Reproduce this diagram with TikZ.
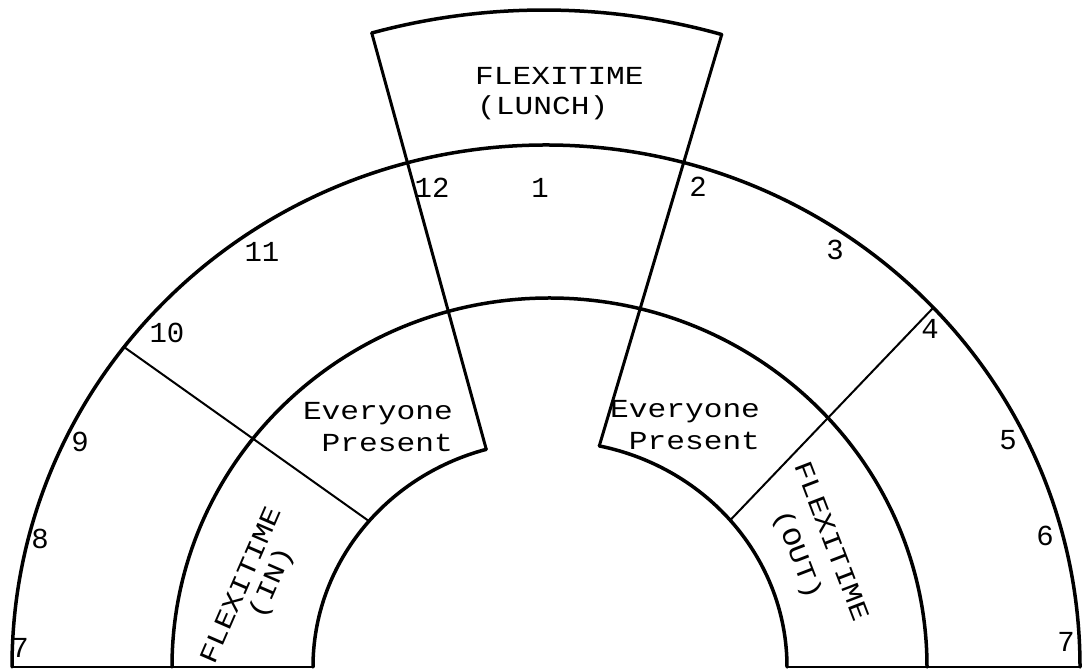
\documentclass[tikz,border=0pt]{standalone}
\usepackage{fontspec}
\usepackage{graphicx}
\setmonofont{Liberation Mono}
\usetikzlibrary{calc}
\newcommand{\widetxt}[1]{\scalebox{1.2}[1]{#1}}
\tikzset{
  ring/.style={line width=3.5pt, line cap=round, line join=round},
  spoke/.style={line width=3pt, line cap=round},
  divider/.style={line width=2pt, line cap=round},
  baseline/.style={line width=2pt},
  lbl/.style={inner sep=0pt, font=\ttfamily\fontsize{26}{30}\selectfont},
  num/.style={inner sep=0pt, font=\ttfamily\fontsize{29}{32}\selectfont},
}
\begin{document}
\begin{tikzpicture}[x=1pt,y=1pt]
\useasboundingbox (0,0) rectangle (1082,671);
% key points
\coordinate (OL0) at (12,4);
\coordinate (OR0) at (1080,4);
\coordinate (ML0) at (172,4);
\coordinate (MR0) at (927,4);
\coordinate (IL0) at (313,4);
\coordinate (IR0) at (787,4);
\coordinate (CL) at ({550+237*cos(105.6)},{4+226*sin(105.6)});
\coordinate (CR) at ({550+237*cos(78)},{4+226*sin(78)});
\coordinate (TL) at ({544+657*cos(105.2)},{4+657*sin(105.2)});
\coordinate (TR) at ({544+657*cos(74.3)},{4+657*sin(74.3)});
\coordinate (DLo) at ({546+534*cos(142.2)},{4+522*sin(142.2)});
\coordinate (DRo) at ({546+534*cos(43.5)},{4+522*sin(43.5)});
\coordinate (DLi) at ({550+237*cos(139.8)},{4+226*sin(139.8)});
\coordinate (DRi) at ({550+237*cos(40.5)},{4+226*sin(40.5)});
% rings
\draw[ring] (OL0) arc[start angle=180, end angle=0, x radius=534, y radius=522];
\draw[ring] (ML0) arc[start angle=180, end angle=0, x radius=377.5, y radius=369];
\draw[ring] (IL0) arc[start angle=180, end angle=105.6, x radius=237, y radius=226];
\draw[ring] (CR) arc[start angle=78, end angle=0, x radius=237, y radius=226];
% lunch box
\draw[ring] (TL) arc[start angle=105.2, end angle=74.3, radius=657];
\draw[spoke] (TL) -- (CL);
\draw[spoke] (TR) -- (CR);
% dividers
\draw[divider] (DLo) -- (DLi);
\draw[divider] (DRo) -- (DRi);
% base
\draw[baseline] (OL0) -- (IL0);
\draw[baseline] (IR0) -- (OR0);
% texts
\node[lbl, anchor=base west] (fl) at (475,586) {\widetxt{FLEXITIME}};
\node[lbl, anchor=base west] (lu) at (477,556) {\widetxt{(LUNCH)}};
\node[lbl, anchor=base east] (el) at (453,251) {\widetxt{Everyone}};
\node[lbl, anchor=base east] (pl) at (453,219) {\widetxt{Present}};
\node[lbl, anchor=base west] (er) at (610,253) {\widetxt{Everyone}};
\node[lbl, anchor=base east] (pr) at ([yshift=-32pt]er.base east) {\widetxt{Present}};
\node[lbl, rotate=66.5] (fin) at (240,86) {\widetxt{FLEXITIME}};
\node[lbl, rotate=66.5] (inn) at (272,88) {\widetxt{(IN)}};
\node[lbl, rotate=-69] (fout) at (832,130) {\widetxt{FLEXITIME}};
\node[lbl, rotate=-69] (out) at (797,116) {\widetxt{(OUT)}};
% clock numbers
\node[num] (n12) at (432,483) {12};
\node[num] (n1) at (540,483) {1};
\node[num] (n2) at (698,484) {2};
\node[num] (n3) at (835,421) {3};
\node[num] (n4) at (930,342) {4};
\node[num] (n5) at (1008,231) {5};
\node[num] (n6) at (1045,135) {6};
\node[num] (n7r) at (1066,29) {7};
\node[num] (n7l) at (20,23) {7};
\node[num] (n8) at (40,132) {8};
\node[num] (n9) at (80,229) {9};
\node[num] (n10) at (167,338) {10};
\node[num] (n11) at (262,419) {11};
\end{tikzpicture}
\end{document}
